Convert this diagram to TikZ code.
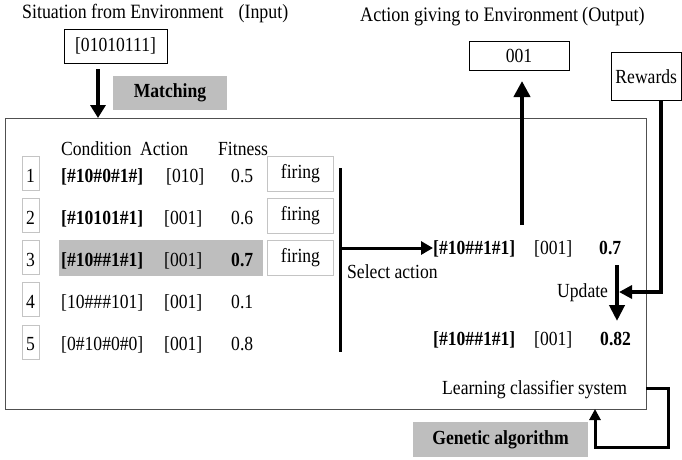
\documentclass[tikz,border=0pt]{standalone}
\usepackage{fontspec}
\setmainfont{Liberation Serif}[FakeStretch=0.88]
\usetikzlibrary{arrows.meta}
\definecolor{hlgray}{HTML}{BEBEBE}
\definecolor{lbord}{HTML}{C4C4C4}
\definecolor{mbord}{HTML}{505050}
\begin{document}
\begin{tikzpicture}[x=1pt,y=-1pt,
  every node/.style={font=\fontsize{20}{22}\selectfont, inner sep=0pt},
  txt/.style={anchor=base west},
  bx/.style={draw=black, line width=0.9pt},
  graybox/.style={fill=hlgray, font=\fontsize{20}{22}\selectfont\bfseries},
  numbox/.style={draw=lbord, line width=0.9pt, minimum width=17pt, minimum height=34pt},
  firebox/.style={draw=lbord, line width=0.9pt, minimum width=66pt, minimum height=35pt},
  bigarrow/.style={line width=4pt, -{Triangle[length=16pt,width=16pt]}},
]
\useasboundingbox (0,0) rectangle (682,459);
\fill[white] (0,0) rectangle (682,459);

% main box
\node[draw=mbord, line width=1pt, minimum width=641pt, minimum height=291pt, anchor=north west] (lcs) at (5,118) {};

% top left
\node[txt] (sit) at (22,18) {\fontsize{20.3}{22}\selectfont Situation from Environment\hspace{15pt}(Input)};
\node[bx, minimum width=103pt, minimum height=34pt] (inp) at (115.5,46) {[01010111]};
\node[graybox, minimum width=114pt, minimum height=34pt] (match) at (170,93) {Matching};
\coordinate (mtip) at (98,118);
\coordinate (mstart) at (98,69);
\draw[line width=4pt, -{Triangle[length=13pt,width=15pt]}] (mstart) -- (mtip);

% top right
\node[txt] (act) at (360,21) {\fontsize{20.6}{22}\selectfont Action giving to Environment\hspace{4pt}(Output)};
\node[bx, minimum width=100pt, minimum height=29pt] (out) at (519,55.5) {001};
\node[bx, minimum width=70pt, minimum height=48pt, anchor=north west, text width=66pt, align=left] (rew) at (611,52) {\hspace{2pt}Rewards};

% header
\node[txt] (hc) at (61,155) {Condition};
\node[txt] (ha) at (140,155) {Action};
\node[txt] (hf) at (218,155) {Fitness};

% highlight row 3
\fill[hlgray] (59,240) rectangle (263,276);

% rows
\foreach \i/\t in {1/156,2/198,3/240,4/282,5/325}{
  \node[numbox, anchor=north west] (n\i) at (22,\t) {};
}
\node[anchor=base] at (30.5,182) {1};
\node[anchor=base] at (30.5,224) {2};
\node[anchor=base] at (30.5,266) {3};
\node[anchor=base] at (30.5,308) {4};
\node[anchor=base] at (30.5,350) {5};

\node[txt] (c1) at (61,182) {\bfseries [\#10\#0\#1\#]};
\node[txt] (a1) at (166,182) {[010]};
\node[txt] (f1) at (231,182) {0.5};
\node[txt] (c2) at (61,224) {\bfseries [\#10101\#1]};
\node[txt] (a2) at (164,224) {[001]};
\node[txt] (f2) at (231,224) {0.6};
\node[txt] (c3) at (61,266) {\bfseries [\#10\#\#1\#1]};
\node[txt] (a3) at (164,266) {[001]};
\node[txt] (f3) at (231,266) {\bfseries 0.7};
\node[txt] (c4) at (61,308) {[10\#\#\#101]};
\node[txt] (a4) at (164,308) {[001]};
\node[txt] (f4) at (231,308) {0.1};
\node[txt] (c5) at (61,350) {[0\#10\#0\#0]};
\node[txt] (a5) at (164,350) {[001]};
\node[txt] (f5) at (231,350) {0.8};

\node[firebox, anchor=north west] (fr1) at (267,156) {firing};
\node[firebox, anchor=north west] (fr2) at (267,198) {firing};
\node[firebox, anchor=north west] (fr3) at (267,240) {firing};

% selection bracket
\coordinate (vtop) at (340.5,168);
\coordinate (vbot) at (340.5,352);
\draw[line width=2.2pt] (vtop) -- (vbot);
\coordinate (sel) at (340.5,248);
\node[txt] (sc) at (433,254) {\bfseries [\#10\#\#1\#1]};
\node[txt] (sa) at (534,254) {[001]};
\node[txt] (sf) at (599,254) {\bfseries 0.7};
\draw[line width=3pt, -{Triangle[length=12pt,width=13pt]}] (sel) -- (sc.west |- sel);
\node[txt] (slabel) at (347,278) {Select action};

\node[txt] (uc) at (433,345) {\bfseries [\#10\#\#1\#1]};
\node[txt] (ua) at (534,345) {[001]};
\node[txt] (uf) at (600,345) {\bfseries 0.82};
\node[txt] (upd) at (557,297) {Update};

% update arrow
\coordinate (us) at (617,265);
\coordinate (ue) at (617,321);
\draw[line width=4pt, -{Triangle[length=16pt,width=15pt]}] (us) -- (ue);

% rewards arrow
\coordinate (rtip) at (619,292);
\draw[line width=3.2pt, -{Triangle[length=13pt,width=13pt]}] (rew.south -| 661,0) -- (661,292) -- (rtip);

% output arrow
\coordinate (ostart) at (522,225);
\draw[bigarrow] (ostart) -- (522,81);

% LCS label
\node[txt] (lcslabel) at (442,394) {Learning classifier system};

% GA
\node[graybox, minimum width=175pt, minimum height=35pt] (ga) at (500.5,439.5) {Genetic algorithm};
\draw[line width=3pt, -{Triangle[length=11pt,width=11pt]}] (646,388) -- (668,388) -- (668,447) -- (595,447) -- (595,409);
\end{tikzpicture}
\end{document}
